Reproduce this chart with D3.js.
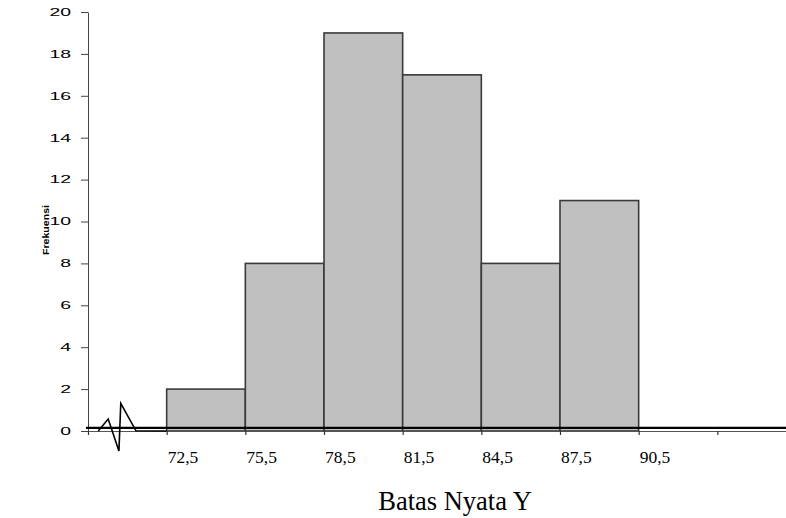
<!DOCTYPE html>
<html>
<head>
<meta charset="utf-8">
<script src="https://cdn.jsdelivr.net/npm/d3@7"></script>
<style>
  body { margin: 0; background: #fff; }
</style>
</head>
<body>
<div class="main"></div>
<script>
// data
const binEdges = [72.5, 75.5, 78.5, 81.5, 84.5, 87.5, 90.5];
const frequencies = [2, 8, 19, 17, 8, 11];
const yTicks = [0, 2, 4, 6, 8, 10, 12, 14, 16, 18, 20];
const xTicks = [69.5, 72.5, 75.5, 78.5, 81.5, 84.5, 87.5, 90.5, 93.5, 96.5];
const xTickLabels = ["", "72,5", "75,5", "78,5", "81,5", "84,5", "87,5", "90,5", "", ""];
// axis break zigzag, in data units
const breakX = [69.89, 70.27, 70.68, 70.75, 71.33, 72.5];
const breakY = [0, 0.57, -0.95, 1.32, 0.01, 0];

var fullwidth = 786, fullheight = 518;
var svg = d3.select(".main")
  .append("svg")
  .attr("width", fullwidth)
  .attr("height", fullheight);

var x = d3.scaleLinear()
  .domain([69.5, 96.5])
  .range([88, 796]);

var y = d3.scaleLinear()
  .domain([0, 20])
  .range([431, 12]);

// bars
var bins = frequencies.map((f, i) => ({ x0: binEdges[i], x1: binEdges[i + 1], f: f }));
svg.append("g")
  .selectAll("rect")
  .data(bins)
  .join("rect")
  .attr("x", d => x(d.x0))
  .attr("y", d => y(d.f))
  .attr("width", d => x(d.x1) - x(d.x0))
  .attr("height", d => y(0) - y(d.f))
  .attr("fill", "#c0c0c0")
  .attr("stroke", "#3a3a3a")
  .attr("stroke-width", 1.6);

// y axis
var yAxis = svg.append("g")
  .attr("transform", "translate(88,0)")
  .call(d3.axisLeft(y).tickValues(yTicks).tickSize(7).tickSizeOuter(0).tickPadding(10));
yAxis.select(".domain").attr("stroke", "#444");
yAxis.selectAll(".tick line").attr("stroke", "#444");
yAxis.selectAll(".tick text")
  .style("font-family", "Arial, 'Liberation Sans', sans-serif")
  .style("font-size", "10.5px")
  .attr("fill", "#000")
  .attr("textLength", d => String(d).length * 10.8)
  .attr("lengthAdjust", "spacingAndGlyphs");

// x axis
var xAxis = svg.append("g")
  .attr("transform", "translate(0," + y(0) + ")")
  .call(d3.axisBottom(x).tickValues(xTicks).tickSize(4).tickSizeOuter(0)
    .tickFormat((d, i) => xTickLabels[i]));
xAxis.select(".domain").attr("stroke", "#555").attr("stroke-width", 1.2);
xAxis.selectAll(".tick line").attr("stroke", "#333").attr("stroke-width", 1.2);
xAxis.selectAll(".tick text")
  .attr("text-anchor", "start")
  .attr("x", 0.5)
  .attr("y", 32)
  .attr("dy", 0)
  .style("font-family", "'Liberation Serif', 'Times New Roman', serif")
  .style("font-size", "17.5px")
  .attr("fill", "#000");

// thick baseline
svg.append("line")
  .attr("x1", 86).attr("x2", fullwidth)
  .attr("y1", y(0) - 3.2).attr("y2", y(0) - 3.2)
  .attr("stroke", "#000")
  .attr("stroke-width", 2.2);

// break symbol
svg.append("path")
  .datum(breakX.map((v, i) => [v, breakY[i]]))
  .attr("fill", "none")
  .attr("stroke", "#000")
  .attr("stroke-width", 1.6)
  .attr("d", d3.line().x(d => x(d[0])).y(d => y(d[1])));

// axis titles
svg.append("text")
  .attr("transform", "translate(49,230) rotate(-90)")
  .attr("text-anchor", "middle")
  .style("font-family", "Arial, 'Liberation Sans', sans-serif")
  .style("font-weight", "bold")
  .style("font-size", "9px")
  .attr("textLength", 50)
  .attr("lengthAdjust", "spacingAndGlyphs")
  .text("Frekuensi");

svg.append("text")
  .attr("x", 455)
  .attr("y", 510)
  .attr("text-anchor", "middle")
  .style("font-family", "'Liberation Serif', 'Times New Roman', serif")
  .style("font-size", "26.5px")
  .attr("fill", "#000")
  .text("Batas Nyata Y");
</script>
</body>
</html>
